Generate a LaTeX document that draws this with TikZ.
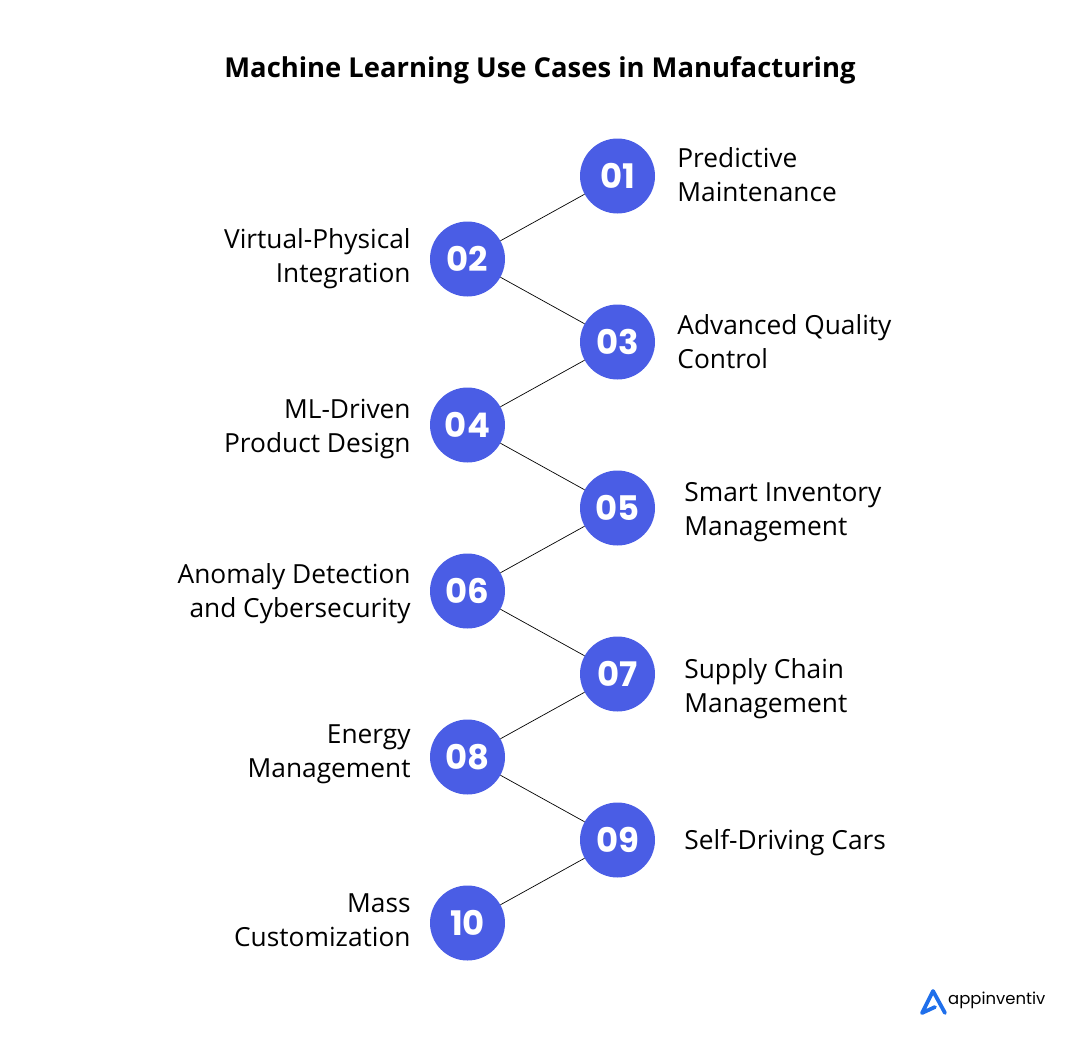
\documentclass[tikz,border=0pt]{standalone}
\usepackage{fontspec}
\setmainfont{Open Sans}
\newfontfamily\ballfont{Poppins}
\usepackage{tikz}
\usetikzlibrary{positioning}
\definecolor{ballblue}{HTML}{4A5DE5}
\definecolor{logoblue}{HTML}{1F6FEB}
\tikzset{
  ball/.style={circle, fill=ballblue, text=white, minimum size=75bp, inner sep=0pt, font=\ballfont\fontsize{34}{34}\selectfont\bfseries},
  lefttext/.style={left=19bp of #1, align=right, font=\fontsize{26.4}{34}\selectfont, inner sep=0pt},
  righttext/.style={right=22bp of #1, align=left, font=\fontsize{26.4}{34}\selectfont, inner sep=0pt},
  link/.style={line width=0.7pt}
}
\begin{document}
\begin{tikzpicture}[x=1bp, y=-1bp]
  \useasboundingbox (0, 0) rectangle (1080, 1040);
  \node (title) at (540, 70) {\fontsize{27.5}{30}\selectfont\bfseries Machine Learning Use Cases in Manufacturing};
  % circles
  \node[ball] (n01) at (617.5, 176) {01};
  \node[ball] (n02) at (467.5, 259) {02};
  \node[ball] (n03) at (617.5, 342) {03};
  \node[ball] (n04) at (467.5, 425) {04};
  \node[ball] (n05) at (617.5, 508) {05};
  \node[ball] (n06) at (467.5, 591) {06};
  \node[ball] (n07) at (617.5, 674) {07};
  \node[ball] (n08) at (467.5, 757) {08};
  \node[ball] (n09) at (617.5, 840) {09};
  \node[ball] (n10) at (467.5, 923) {10};
  % labels
  \node[righttext=n01, yshift=1bp] (t01) {Predictive\\Maintenance};
  \node[lefttext=n02] (t02) {Virtual-Physical\\Integration};
  \node[righttext=n03] (t03) {Advanced Quality\\Control};
  \node[lefttext=n04, yshift=-4bp] (t04) {ML-Driven\\Product Design};
  \node[righttext=n05, xshift=7bp, yshift=-4bp] (t05) {Smart Inventory\\Management};
  \node[lefttext=n06, yshift=-3bp] (t06) {Anomaly Detection\\and Cybersecurity};
  \node[righttext=n07, xshift=7bp, yshift=-15bp] (t07) {Supply Chain\\Management};
  \node[lefttext=n08, yshift=3bp] (t08) {Energy\\Management};
  \node[righttext=n09, xshift=7bp, yshift=-3bp] (t09) {Self-Driving Cars};
  \node[lefttext=n10, yshift=3bp] (t10) {Mass\\Customization};
  % connectors
  \foreach \a/\b in {n01/n02, n02/n03, n03/n04, n04/n05, n05/n06, n06/n07, n07/n08, n08/n09, n09/n10}
    \draw[link] (\a) -- (\b);
  % logo
  \draw[logoblue, line width=3.8pt, line join=round, line cap=round] (935, 1007) -- (922, 1013) -- (933, 991) -- (945, 1013);
  \node[anchor=west, inner sep=0pt] (logo) at (948, 1000) {\ballfont\fontsize{16.5}{17}\selectfont appinventiv};
\end{tikzpicture}
\end{document}
